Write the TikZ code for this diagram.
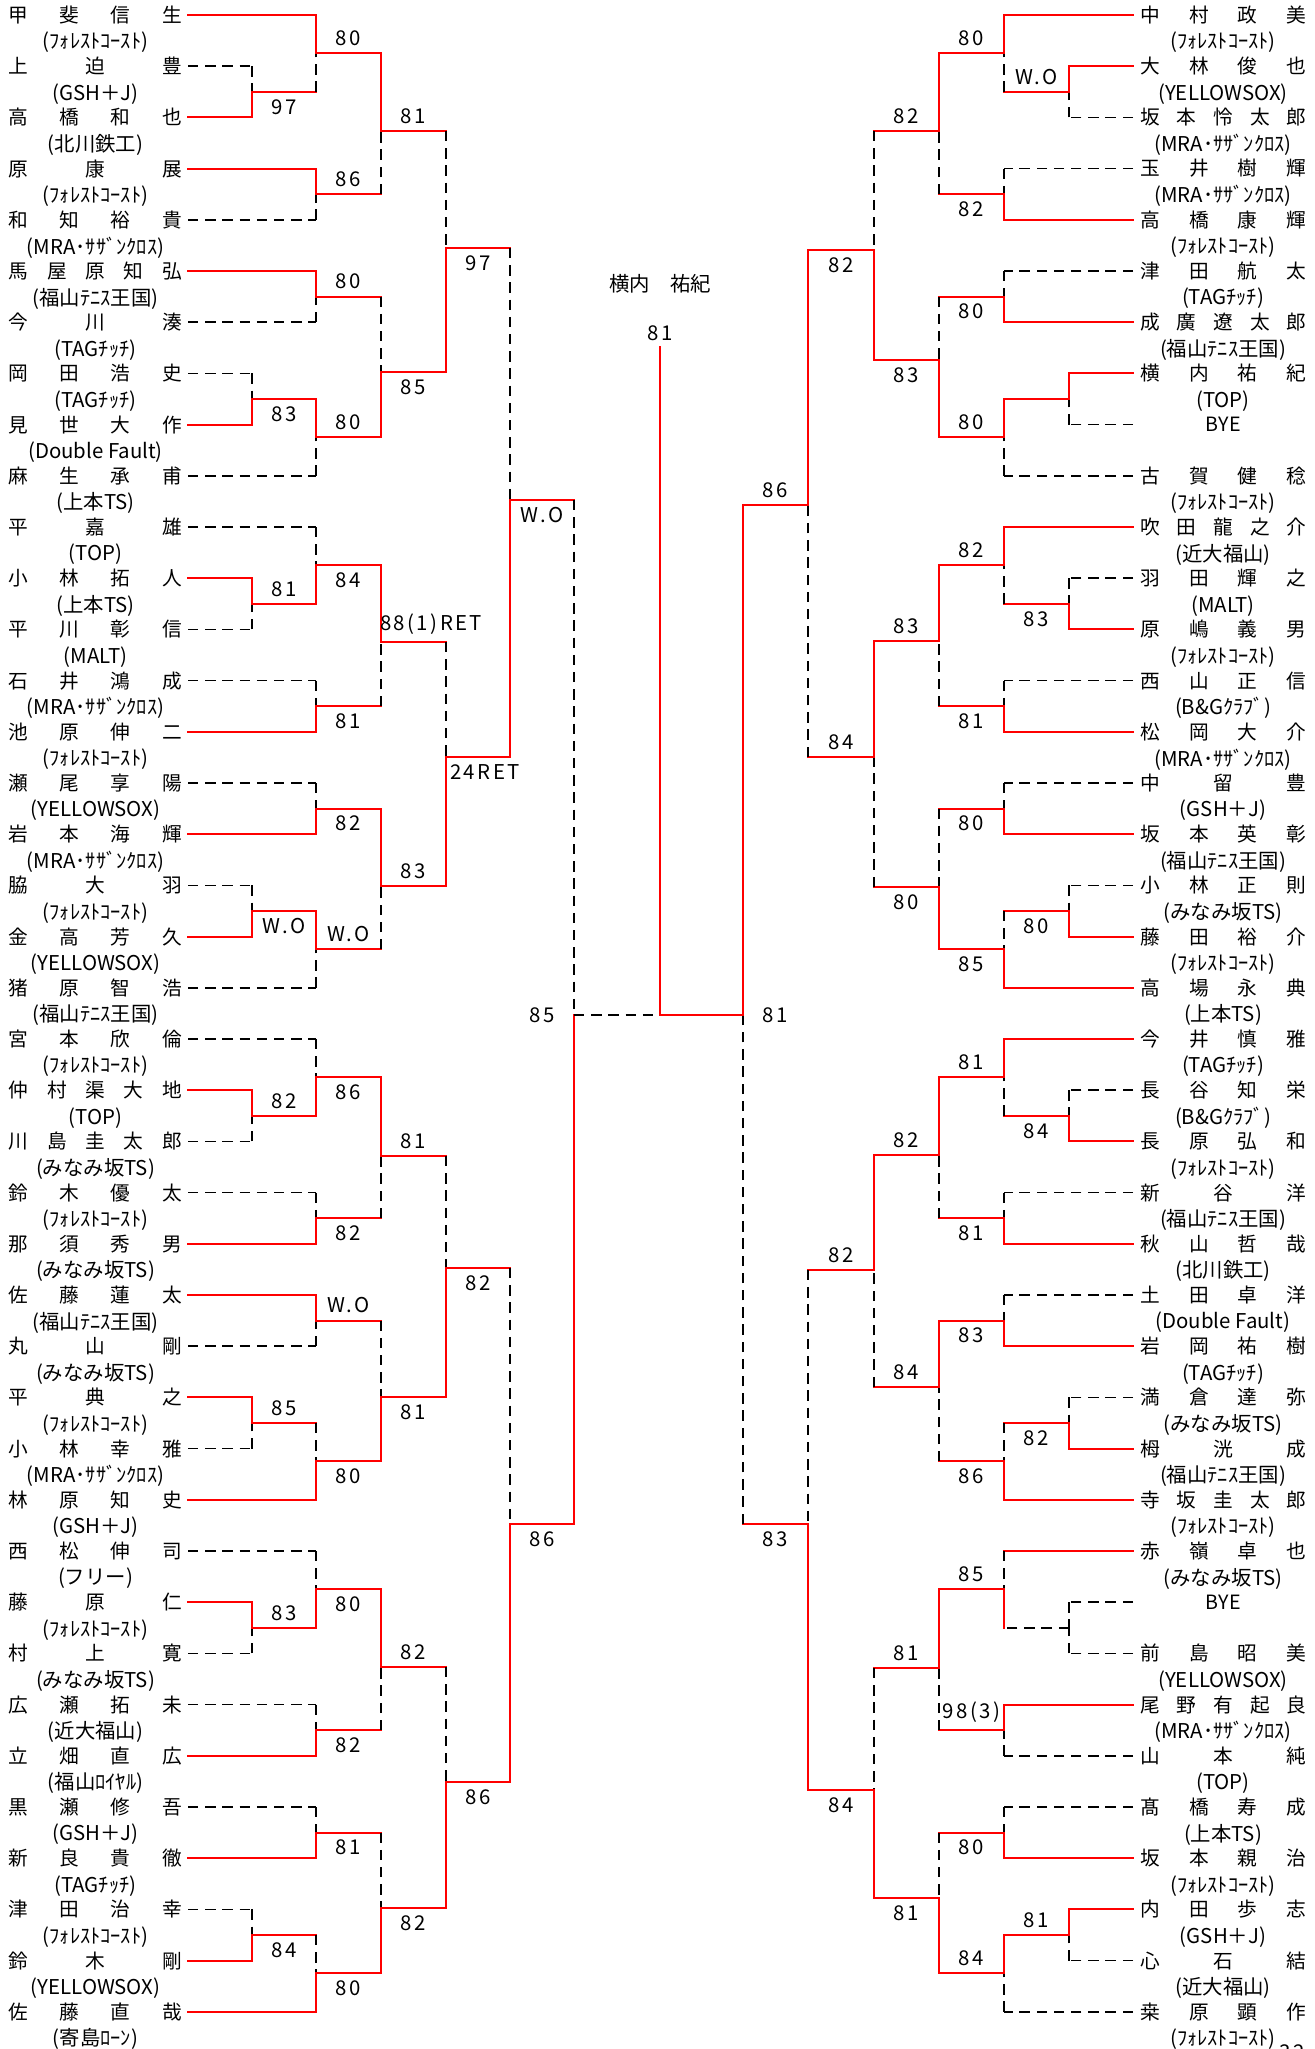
\documentclass[tikz,border=0pt]{standalone}
\usepackage{fontspec}
\setmainfont{Noto Sans CJK JP}
\newfontfamily\scorefont{Noto Sans CJK JP}[LetterSpace=12]
\usepackage{tikz}

\tikzset{
  won/.style={red, line width=0.5mm, line cap=rect},
  lost/.style={black, line width=0.42mm, dash pattern=on 2.6mm off 1.7mm},
  lname/.style={anchor=east, inner xsep=1.5mm, inner ysep=0pt, font=\fontsize{14}{16}\selectfont},
  rname/.style={anchor=west, inner xsep=1.75mm, inner ysep=0pt, font=\fontsize{14}{16}\selectfont},
  team/.style={inner sep=0pt, font=\fontsize{14.5}{16}\selectfont},
  scr/.style={text=black, inner xsep=0pt, inner ysep=1.6mm, font=\scorefont\fontsize{14.5}{16}\selectfont},
}
% horizontal part, then vertical part at the next column
\newcommand{\plink}[4]{\draw[#3] (#1) -- (#1 -| #2);\draw[#4] (#1 -| #2) -- (#2);}
\newcommand{\mlink}[6]{\draw[#3] (#1) -- node[scr,#5]{#6} (#1 -| #2);\draw[#4] (#1 -| #2) -- (#2);}

\begin{document}
\begin{tikzpicture}[x=0.25mm,y=-0.25mm]
\useasboundingbox (0,0) rectangle (1315,2049);
%
\foreach \nm/\tm [count=\i from 0] in {甲 斐 信 生/(ﾌｫﾚｽﾄｺｰｽﾄ),上 迫 豊/(GSH＋J),高 橋 和 也/(北川鉄工),
  原 康 展/(ﾌｫﾚｽﾄｺｰｽﾄ),和 知 裕 貴/(MRA･ｻｻﾞﾝｸﾛｽ),馬 屋 原 知 弘/(福山ﾃﾆｽ王国),今 川 湊/(TAGﾁｯﾁ),
  岡 田 浩 史/(TAGﾁｯﾁ),見 世 大 作/(Double Fault),麻 生 承 甫/(上本TS),平 嘉 雄/(TOP),
  小 林 拓 人/(上本TS),平 川 彰 信/(MALT),石 井 鴻 成/(MRA･ｻｻﾞﾝｸﾛｽ),池 原 伸 二/(ﾌｫﾚｽﾄｺｰｽﾄ),
  瀬 尾 享 陽/(YELLOWSOX),岩 本 海 輝/(MRA･ｻｻﾞﾝｸﾛｽ),脇 大 羽/(ﾌｫﾚｽﾄｺｰｽﾄ),金 高 芳 久/(YELLOWSOX),
  猪 原 智 浩/(福山ﾃﾆｽ王国),宮 本 欣 倫/(ﾌｫﾚｽﾄｺｰｽﾄ),仲 村 渠 大 地/(TOP),川 島 圭 太 郎/(みなみ坂TS),
  鈴 木 優 太/(ﾌｫﾚｽﾄｺｰｽﾄ),那 須 秀 男/(みなみ坂TS),佐 藤 蓮 太/(福山ﾃﾆｽ王国),丸 山 剛/(みなみ坂TS),
  平 典 之/(ﾌｫﾚｽﾄｺｰｽﾄ),小 林 幸 雅/(MRA･ｻｻﾞﾝｸﾛｽ),林 原 知 史/(GSH＋J),西 松 伸 司/(フリー),
  藤 原 仁/(ﾌｫﾚｽﾄｺｰｽﾄ),村 上 寛/(みなみ坂TS),広 瀬 拓 未/(近大福山),立 畑 直 広/(福山ﾛｲﾔﾙ),
  黒 瀬 修 吾/(GSH＋J),新 良 貴 徹/(TAGﾁｯﾁ),津 田 治 幸/(ﾌｫﾚｽﾄｺｰｽﾄ),鈴 木 剛/(YELLOWSOX),
  佐 藤 直 哉/(寄島ﾛｰﾝ)}{
  \pgfmathsetmacro{\yy}{15+51.2*\i}
  \node[lname] (pl\i) at (188,\yy) {\makebox[43.25mm][s]{\nm}};
  \node[team] (tl\i) at (95.5,\yy+27.5) {\tm};
}
\foreach \nm/\tm [count=\i from 0] in {中 村 政 美/(ﾌｫﾚｽﾄｺｰｽﾄ),大 林 俊 也/(YELLOWSOX),坂 本 怜 太 郎/(MRA･ｻｻﾞﾝｸﾛｽ),
  玉 井 樹 輝/(MRA･ｻｻﾞﾝｸﾛｽ),高 橋 康 輝/(ﾌｫﾚｽﾄｺｰｽﾄ),津 田 航 太/(TAGﾁｯﾁ),成 廣 遼 太 郎/(福山ﾃﾆｽ王国),
  横 内 祐 紀/(TOP),\hfil BYE\hfil/{},古 賀 健 稔/(ﾌｫﾚｽﾄｺｰｽﾄ),吹 田 龍 之 介/(近大福山),羽 田 輝 之/(MALT),
  原 嶋 義 男/(ﾌｫﾚｽﾄｺｰｽﾄ),西 山 正 信/(B\&Gｸﾗﾌﾞ),松 岡 大 介/(MRA･ｻｻﾞﾝｸﾛｽ),中 留 豊/(GSH＋J),
  坂 本 英 彰/(福山ﾃﾆｽ王国),小 林 正 則/(みなみ坂TS),藤 田 裕 介/(ﾌｫﾚｽﾄｺｰｽﾄ),高 場 永 典/(上本TS),
  今 井 慎 雅/(TAGﾁｯﾁ),長 谷 知 栄/(B\&Gｸﾗﾌﾞ),長 原 弘 和/(ﾌｫﾚｽﾄｺｰｽﾄ),新 谷 洋/(福山ﾃﾆｽ王国),
  秋 山 哲 哉/(北川鉄工),土 田 卓 洋/(Double Fault),岩 岡 祐 樹/(TAGﾁｯﾁ),満 倉 達 弥/(みなみ坂TS),
  栂 洸 成/(福山ﾃﾆｽ王国),寺 坂 圭 太 郎/(ﾌｫﾚｽﾄｺｰｽﾄ),赤 嶺 卓 也/(みなみ坂TS),\hfil BYE\hfil/{},
  前 島 昭 美/(YELLOWSOX),尾 野 有 起 良/(MRA･ｻｻﾞﾝｸﾛｽ),山 本 純/(TOP),髙 橋 寿 成/(上本TS),
  坂 本 親 治/(ﾌｫﾚｽﾄｺｰｽﾄ),内 田 歩 志/(GSH＋J),心 石 結/(近大福山),桒 原 顕 作/(ﾌｫﾚｽﾄｺｰｽﾄ)}{
  \pgfmathsetmacro{\yy}{15+51.2*\i}
  \node[rname] (pr\i) at (1133,\yy) {\makebox[41.5mm][s]{\nm}};
  \node[team] (tr\i) at (1223,\yy+27.5) {\tm};
}
%
% left half: joins
\coordinate (ml0) at (252,91.8);  \coordinate (sl0) at (316,53.4);  \coordinate (dl0) at (316,194.2);
\coordinate (dl1) at (316,296.6); \coordinate (ml1) at (252,399);   \coordinate (sl1) at (316,437.4);
\coordinate (ml2) at (252,603.8); \coordinate (sl2) at (316,565.4); \coordinate (dl2) at (316,706.2);
\coordinate (dl3) at (316,808.6); \coordinate (ml3) at (252,911);   \coordinate (sl3) at (316,949.4);
\coordinate (ml4) at (252,1115.8);\coordinate (sl4) at (316,1077.4);\coordinate (dl4) at (316,1218.2);
\coordinate (dl5) at (316,1320.6);\coordinate (ml5) at (252,1423);  \coordinate (sl5) at (316,1461.4);
\coordinate (ml6) at (252,1627.8);\coordinate (sl6) at (316,1589.4);\coordinate (dl6) at (316,1730.2);
\coordinate (dl7) at (316,1832.6);\coordinate (ml7) at (252,1935);  \coordinate (sl7) at (316,1973.4);
\coordinate (ql0) at (381,131);  \coordinate (ql1) at (381,372);  \coordinate (ql2) at (381,642);  \coordinate (ql3) at (381,886);
\coordinate (ql4) at (381,1156); \coordinate (ql5) at (381,1397); \coordinate (ql6) at (381,1667); \coordinate (ql7) at (381,1908);
\coordinate (hl0) at (446,248);  \coordinate (hl1) at (446,757);  \coordinate (hl2) at (446,1268); \coordinate (hl3) at (446,1782);
\coordinate (fl0) at (510,500);  \coordinate (fl1) at (510,1524);
\coordinate (cl) at (574,1015);
% right half: joins
\coordinate (mr0) at (1069,91.8);  \coordinate (sr0) at (1004,53.4);  \coordinate (dr0) at (1004,194.2);
\coordinate (dr1) at (1004,296.6); \coordinate (mr1) at (1069,399);   \coordinate (sr1) at (1004,437.4);
\coordinate (mr2) at (1069,603.8); \coordinate (sr2) at (1004,565.4); \coordinate (dr2) at (1004,706.2);
\coordinate (dr3) at (1004,808.6); \coordinate (mr3) at (1069,911);   \coordinate (sr3) at (1004,949.4);
\coordinate (mr4) at (1069,1115.8);\coordinate (sr4) at (1004,1077.4);\coordinate (dr4) at (1004,1218.2);
\coordinate (dr5) at (1004,1320.6);\coordinate (mr5) at (1069,1423);  \coordinate (sr5) at (1004,1461.4);
\coordinate (mr6) at (1069,1627.8);\coordinate (sr6) at (1004,1589.4);\coordinate (dr6) at (1004,1730.2);
\coordinate (dr7) at (1004,1832.6);\coordinate (mr7) at (1069,1935);  \coordinate (sr7) at (1004,1973.4);
\coordinate (qr0) at (939,131);  \coordinate (qr1) at (939,360);  \coordinate (qr2) at (939,641);  \coordinate (qr3) at (939,887);
\coordinate (qr4) at (939,1155); \coordinate (qr5) at (939,1387); \coordinate (qr6) at (939,1668); \coordinate (qr7) at (939,1898);
\coordinate (hr0) at (874,250);  \coordinate (hr1) at (874,757);  \coordinate (hr2) at (874,1270); \coordinate (hr3) at (874,1790);
\coordinate (fr0) at (808,505);  \coordinate (fr1) at (808,1524);
\coordinate (cr) at (743,1015);
\coordinate (cmid) at (660,1015);
\coordinate (ctop) at (660,347);
%
% left half
\plink{pl1.east}{ml0}{lost}{lost}
\plink{pl2.east}{ml0}{won}{won}
\plink{pl0.east}{sl0}{won}{won}
\mlink{ml0}{sl0}{won}{lost}{below}{97}
\plink{pl3.east}{dl0}{won}{won}
\plink{pl4.east}{dl0}{lost}{lost}
\mlink{sl0}{ql0}{won}{won}{above}{80}
\mlink{dl0}{ql0}{won}{lost}{above}{86}
\plink{pl5.east}{dl1}{won}{won}
\plink{pl6.east}{dl1}{lost}{lost}
\plink{pl7.east}{ml1}{lost}{lost}
\plink{pl8.east}{ml1}{won}{won}
\mlink{ml1}{sl1}{won}{won}{below}{83}
\plink{pl9.east}{sl1}{lost}{lost}
\mlink{dl1}{ql1}{won}{lost}{above}{80}
\mlink{sl1}{ql1}{won}{won}{above}{80}
\mlink{ql0}{hl0}{won}{lost}{above}{81}
\mlink{ql1}{hl0}{won}{won}{below}{85}
%
\plink{pl10.east}{sl2}{lost}{lost}
\plink{pl11.east}{ml2}{won}{won}
\plink{pl12.east}{ml2}{lost}{lost}
\mlink{ml2}{sl2}{won}{won}{above}{81}
\plink{pl13.east}{dl2}{lost}{lost}
\plink{pl14.east}{dl2}{won}{won}
\mlink{sl2}{ql2}{won}{won}{below}{84}
\mlink{dl2}{ql2}{won}{lost}{below}{81}
\plink{pl15.east}{dl3}{lost}{lost}
\plink{pl16.east}{dl3}{won}{won}
\plink{pl17.east}{ml3}{lost}{lost}
\plink{pl18.east}{ml3}{won}{won}
\mlink{ml3}{sl3}{won}{won}{below}{W.O}
\plink{pl19.east}{sl3}{lost}{lost}
\mlink{dl3}{ql3}{won}{won}{below}{82}
\mlink{sl3}{ql3}{won}{lost}{above}{W.O}
\mlink{ql2}{hl1}{won}{lost}{above,xshift=4.4mm}{88(1)RET}
\mlink{ql3}{hl1}{won}{won}{above}{83}
\mlink{hl0}{fl0}{won}{lost}{below}{97}
\mlink{hl1}{fl0}{won}{won}{below,xshift=1.75mm}{24RET}
%
\plink{pl20.east}{sl4}{lost}{lost}
\plink{pl21.east}{ml4}{won}{won}
\plink{pl22.east}{ml4}{lost}{lost}
\mlink{ml4}{sl4}{won}{won}{above}{82}
\plink{pl23.east}{dl4}{lost}{lost}
\plink{pl24.east}{dl4}{won}{won}
\mlink{sl4}{ql4}{won}{won}{below}{86}
\mlink{dl4}{ql4}{won}{lost}{below}{82}
\plink{pl25.east}{dl5}{won}{won}
\plink{pl26.east}{dl5}{lost}{lost}
\plink{pl27.east}{ml5}{won}{won}
\plink{pl28.east}{ml5}{lost}{lost}
\mlink{ml5}{sl5}{won}{lost}{above}{85}
\plink{pl29.east}{sl5}{won}{won}
\mlink{dl5}{ql5}{won}{lost}{above}{W.O}
\mlink{sl5}{ql5}{won}{won}{below}{80}
\mlink{ql4}{hl2}{won}{lost}{above}{81}
\mlink{ql5}{hl2}{won}{won}{below}{81}
%
\plink{pl30.east}{sl6}{lost}{lost}
\plink{pl31.east}{ml6}{won}{won}
\plink{pl32.east}{ml6}{lost}{lost}
\mlink{ml6}{sl6}{won}{won}{above}{83}
\plink{pl33.east}{dl6}{lost}{lost}
\plink{pl34.east}{dl6}{won}{won}
\mlink{sl6}{ql6}{won}{won}{below}{80}
\mlink{dl6}{ql6}{won}{lost}{below}{82}
\plink{pl35.east}{dl7}{lost}{lost}
\plink{pl36.east}{dl7}{won}{won}
\plink{pl37.east}{ml7}{lost}{lost}
\plink{pl38.east}{ml7}{won}{won}
\mlink{ml7}{sl7}{won}{lost}{below}{84}
\plink{pl39.east}{sl7}{won}{won}
\mlink{dl7}{ql7}{won}{lost}{below}{81}
\mlink{sl7}{ql7}{won}{won}{below}{80}
\mlink{ql6}{hl3}{won}{lost}{above}{82}
\mlink{ql7}{hl3}{won}{won}{below}{82}
\mlink{hl2}{fl1}{won}{lost}{below}{82}
\mlink{hl3}{fl1}{won}{won}{below}{86}
\mlink{fl0}{cl}{won}{lost}{below}{W.O}
\mlink{fl1}{cl}{won}{won}{below}{86}
%
% right half
\plink{pr1.west}{mr0}{won}{won}
\plink{pr2.west}{mr0}{lost}{lost}
\plink{pr0.west}{sr0}{won}{won}
\mlink{mr0}{sr0}{won}{lost}{above}{W.O}
\plink{pr3.west}{dr0}{lost}{lost}
\plink{pr4.west}{dr0}{won}{won}
\mlink{sr0}{qr0}{won}{won}{above}{80}
\mlink{dr0}{qr0}{won}{lost}{below}{82}
\plink{pr5.west}{dr1}{lost}{lost}
\plink{pr6.west}{dr1}{won}{won}
\plink{pr7.west}{mr1}{won}{won}
\plink{pr8.west}{mr1}{lost}{lost}
\plink{mr1}{sr1}{won}{won}
\plink{pr9.west}{sr1}{lost}{lost}
\mlink{dr1}{qr1}{won}{lost}{below}{80}
\mlink{sr1}{qr1}{won}{won}{above}{80}
\mlink{qr0}{hr0}{won}{lost}{above}{82}
\mlink{qr1}{hr0}{won}{won}{below}{83}
%
\plink{pr10.west}{sr2}{won}{won}
\plink{pr11.west}{mr2}{lost}{lost}
\plink{pr12.west}{mr2}{won}{won}
\mlink{mr2}{sr2}{won}{lost}{below}{83}
\plink{pr13.west}{dr2}{lost}{lost}
\plink{pr14.west}{dr2}{won}{won}
\mlink{sr2}{qr2}{won}{won}{above}{82}
\mlink{dr2}{qr2}{won}{lost}{below}{81}
\plink{pr15.west}{dr3}{lost}{lost}
\plink{pr16.west}{dr3}{won}{won}
\plink{pr17.west}{mr3}{lost}{lost}
\plink{pr18.west}{mr3}{won}{won}
\mlink{mr3}{sr3}{won}{lost}{below}{80}
\plink{pr19.west}{sr3}{won}{won}
\mlink{dr3}{qr3}{won}{lost}{below}{80}
\mlink{sr3}{qr3}{won}{won}{below}{85}
\mlink{qr2}{hr1}{won}{won}{above}{83}
\mlink{qr3}{hr1}{won}{lost}{below}{80}
\mlink{hr0}{fr0}{won}{won}{below}{82}
\mlink{hr1}{fr0}{won}{lost}{above}{84}
%
\plink{pr20.west}{sr4}{won}{won}
\plink{pr21.west}{mr4}{lost}{lost}
\plink{pr22.west}{mr4}{won}{won}
\mlink{mr4}{sr4}{won}{lost}{below}{84}
\plink{pr23.west}{dr4}{lost}{lost}
\plink{pr24.west}{dr4}{won}{won}
\mlink{sr4}{qr4}{won}{won}{above}{81}
\mlink{dr4}{qr4}{won}{lost}{below}{81}
\plink{pr25.west}{dr5}{lost}{lost}
\plink{pr26.west}{dr5}{won}{won}
\plink{pr27.west}{mr5}{lost}{lost}
\plink{pr28.west}{mr5}{won}{won}
\mlink{mr5}{sr5}{won}{lost}{below}{82}
\plink{pr29.west}{sr5}{won}{won}
\mlink{dr5}{qr5}{won}{won}{below}{83}
\mlink{sr5}{qr5}{won}{lost}{below}{86}
\mlink{qr4}{hr2}{won}{won}{above}{82}
\mlink{qr5}{hr2}{won}{lost}{above}{84}
%
\plink{pr30.west}{sr6}{won}{lost}
\plink{pr31.west}{mr6}{lost}{lost}
\plink{pr32.west}{mr6}{lost}{lost}
\plink{mr6}{sr6}{lost}{won}
\plink{pr33.west}{dr6}{won}{won}
\plink{pr34.west}{dr6}{lost}{lost}
\mlink{sr6}{qr6}{won}{won}{above}{85}
\mlink{dr6}{qr6}{won}{lost}{above}{98(3)}
\plink{pr35.west}{dr7}{lost}{lost}
\plink{pr36.west}{dr7}{won}{won}
\plink{pr37.west}{mr7}{won}{won}
\plink{pr38.west}{mr7}{lost}{lost}
\mlink{mr7}{sr7}{won}{won}{above}{81}
\plink{pr39.west}{sr7}{lost}{lost}
\mlink{dr7}{qr7}{won}{lost}{below}{80}
\mlink{sr7}{qr7}{won}{won}{above}{84}
\mlink{qr6}{hr3}{won}{lost}{above}{81}
\mlink{qr7}{hr3}{won}{won}{below}{81}
\mlink{hr2}{fr1}{won}{lost}{above}{82}
\mlink{hr3}{fr1}{won}{won}{below}{84}
\mlink{fr0}{cr}{won}{won}{above}{86}
\mlink{fr1}{cr}{won}{lost}{below}{83}
%
% final
\draw[lost] (cl) -- (cmid);
\draw[won] (cr) -- (cmid) -- (ctop);
\node[scr] (fsl) at (542,1015) {85};
\node[scr] (fsr) at (775.5,1015) {81};
\node[scr, above] (csc) at (ctop) {81};
\node[team] (champ) at (660,284) {横内　祐紀};
\node[scr] (pg) at (1292,2052) {32};
\end{tikzpicture}
\end{document}
